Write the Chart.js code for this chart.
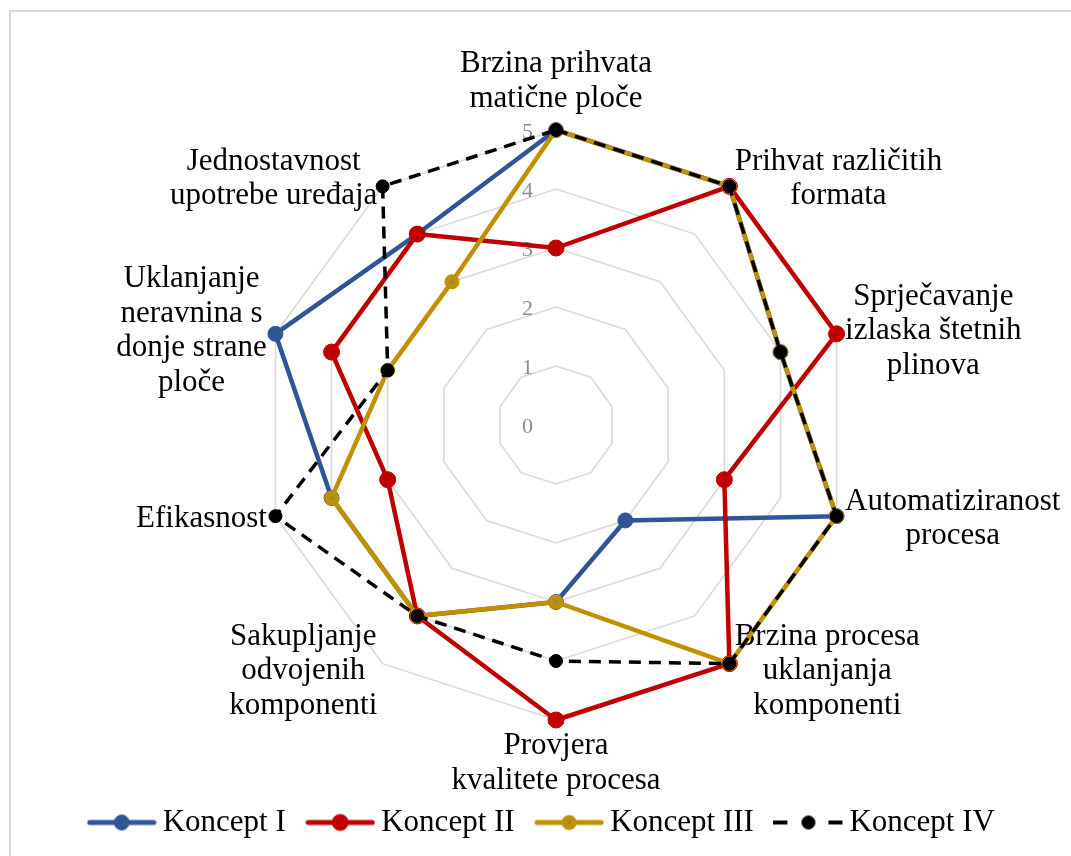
<!DOCTYPE html>
<html>
<head>
<meta charset="utf-8">
<title>Koncepti</title>
<script src="https://cdn.jsdelivr.net/npm/chart.js@4/dist/chart.umd.min.js"></script>
<style>
  html, body { margin: 0; padding: 0; background: #fff; }
  #wrap { width: 1071px; height: 856px; }
</style>
</head>
<body>
<div id="wrap"><canvas id="radar" width="1071" height="856"></canvas></div>
<script>
// criteria, one entry per axis (lines as they wrap around the web)
const criteria = [
    ['Brzina prihvata', 'matične ploče'],
    ['Prihvat različitih', 'formata'],
    ['Sprječavanje', 'izlaska štetnih', 'plinova'],
    ['Automatiziranost', 'procesa'],
    ['Brzina procesa', 'uklanjanja', 'komponenti'],
    ['Provjera', 'kvalitete procesa'],
    ['Sakupljanje', 'odvojenih', 'komponenti'],
    ['Efikasnost'],
    ['Uklanjanje', 'neravnina s', 'donje strane', 'ploče'],
    ['Jednostavnost', 'upotrebe uređaja'],
];

// scores 0-5 per concept
const konceptI   = [5, 5, 4, 5, 2, 3, 4, 4, 5, 4];
const konceptII  = [3, 5, 5, 3, 5, 5, 4, 3, 4, 4];
const konceptIII = [5, 5, 4, 5, 5, 3, 4, 4, 3, 3];
const konceptIV  = [5, 5, 4, 5, 5, 4, 4, 5, 3, 5];

const tickValues = [0, 1, 2, 3, 4, 5];

const FONT = '"Liberation Serif", "Times New Roman", serif';

document.addEventListener('DOMContentLoaded', () => {

    const datasets = [
        {
            label: 'Koncept I', data: konceptI, order: 4,
            borderColor: '#2f5597', borderWidth: 4.5,
            pointRadius: 7.5, pointBackgroundColor: '#2f5597', pointBorderColor: '#2f5597', pointBorderWidth: 1,
        },
        {
            label: 'Koncept II', data: konceptII, order: 3,
            borderColor: '#c00000', borderWidth: 4.5,
            pointRadius: 8, pointBackgroundColor: '#c00000', pointBorderColor: '#c00000', pointBorderWidth: 1,
        },
        {
            label: 'Koncept III', data: konceptIII, order: 2,
            borderColor: '#bf9000', borderWidth: 4.5,
            pointRadius: 4.5, pointBackgroundColor: '#7f7f7f', pointBorderColor: '#bf9000', pointBorderWidth: 6,
        },
        {
            label: 'Koncept IV', data: konceptIV, order: 1,
            borderColor: '#000000', borderWidth: 3.5, borderDash: [12, 8],
            pointRadius: 6.5, pointBackgroundColor: '#000000', pointBorderColor: '#000000', pointBorderWidth: 1,
        },
    ];
    datasets.forEach(ds => {
        ds.fill = false;
        ds.tension = 0;
        ds.backgroundColor = 'transparent';
        ds.borderJoinStyle = 'round';
    });

    // legend swatch: short line with the marker in the middle
    function makeSwatch(ds) {
        const c = document.createElement('canvas');
        c.width = 70;
        c.height = 20;
        const g = c.getContext('2d');
        const mid = c.height / 2;
        g.strokeStyle = ds.borderColor;
        if (ds.borderDash) {
            g.lineWidth = 4;
            g.setLineDash([14, 41]);
            g.beginPath();
            g.moveTo(0, mid);
            g.lineTo(70, mid);
            g.stroke();
            g.setLineDash([]);
        } else {
            g.lineWidth = 5;
            g.lineCap = 'round';
            g.beginPath();
            g.moveTo(3, mid);
            g.lineTo(67, mid);
            g.stroke();
        }
        g.beginPath();
        g.arc(35, mid, ds.pointRadius, 0, Math.PI * 2);
        g.fillStyle = ds.pointBackgroundColor;
        g.fill();
        g.lineWidth = ds.pointBorderWidth;
        g.strokeStyle = ds.pointBorderColor;
        g.stroke();
        return c;
    }
    const swatches = datasets.map(makeSwatch);

    // chart frame
    const frame = {
        id: 'frame',
        beforeDraw(chart) {
            const ctx = chart.ctx;
            ctx.save();
            ctx.fillStyle = '#fff';
            ctx.fillRect(0, 0, chart.width, chart.height);
            ctx.strokeStyle = '#d9d9d9';
            ctx.lineWidth = 2;
            ctx.strokeRect(10, 11, chart.width + 50, chart.height + 50);
            ctx.restore();
        }
    };

    // value ticks beside the vertical axis + wrapped category labels
    const axisText = {
        id: 'axisText',
        beforeDatasetsDraw(chart) {
            const r = chart.scales.r;
            const ctx = chart.ctx;
            ctx.save();

            ctx.font = '22px ' + FONT;
            ctx.fillStyle = '#8c8c8c';
            ctx.textAlign = 'right';
            ctx.textBaseline = 'middle';
            tickValues.forEach(v => {
                const y = r.yCenter - r.getDistanceFromCenterForValue(v);
                ctx.fillText(String(v), r.xCenter - 23, y + 2);
            });

            ctx.font = '31px ' + FONT;
            ctx.fillStyle = '#000';
            ctx.textAlign = 'center';
            const lh = 34.5;
            criteria.forEach((lines, i) => {
                const p = r.getPointPosition(i, r.drawingArea + 9);
                const dx = Math.cos(p.angle);
                const dy = Math.sin(p.angle);
                const w = Math.max(...lines.map(t => ctx.measureText(t).width));
                const h = lines.length * lh;
                const left = dx > 0.01 ? p.x : (dx < -0.01 ? p.x - w : p.x - w / 2);
                let top = p.y - h / 2;
                if (dy < -0.99) top = p.y - h - 5;
                if (dy > 0.99) top = p.y;
                lines.forEach((t, k) => ctx.fillText(t, left + w / 2, top + lh * (k + 0.5)));
            });
            ctx.restore();
        }
    };

    const ctx = document.getElementById('radar').getContext('2d');
    new Chart(ctx, {
        type: 'radar',
        data: {
            labels: criteria.map(c => c.join(' ')),
            datasets: datasets,
        },
        options: {
            responsive: false,
            animation: false,
            devicePixelRatio: 1,
            layout: { padding: { bottom: 8, left: 20 } },
            scales: {
                r: {
                    min: 0,
                    max: 5,
                    ticks: { stepSize: 1, display: false },
                    grid: { color: '#d9d9d9', lineWidth: 1.6 },
                    angleLines: { display: false },
                    pointLabels: { display: false },
                    afterFit(scale) {
                        scale.xCenter = 556;
                        scale.yCenter = 425;
                        scale.drawingArea = 295;
                    },
                },
            },
            plugins: {
                tooltip: { enabled: false },
                legend: {
                    position: 'bottom',
                    labels: {
                        usePointStyle: true,
                        pointStyleWidth: 51,
                        padding: 29,
                        color: '#000',
                        font: { family: FONT, size: 31 },
                        sort: (a, b) => a.datasetIndex - b.datasetIndex,
                        generateLabels(chart) {
                            const items = Chart.defaults.plugins.legend.labels.generateLabels(chart);
                            items.forEach(it => { it.pointStyle = swatches[it.datasetIndex]; });
                            return items;
                        },
                    },
                },
            },
        },
        plugins: [frame, axisText],
    });
});
</script>
</body>
</html>
